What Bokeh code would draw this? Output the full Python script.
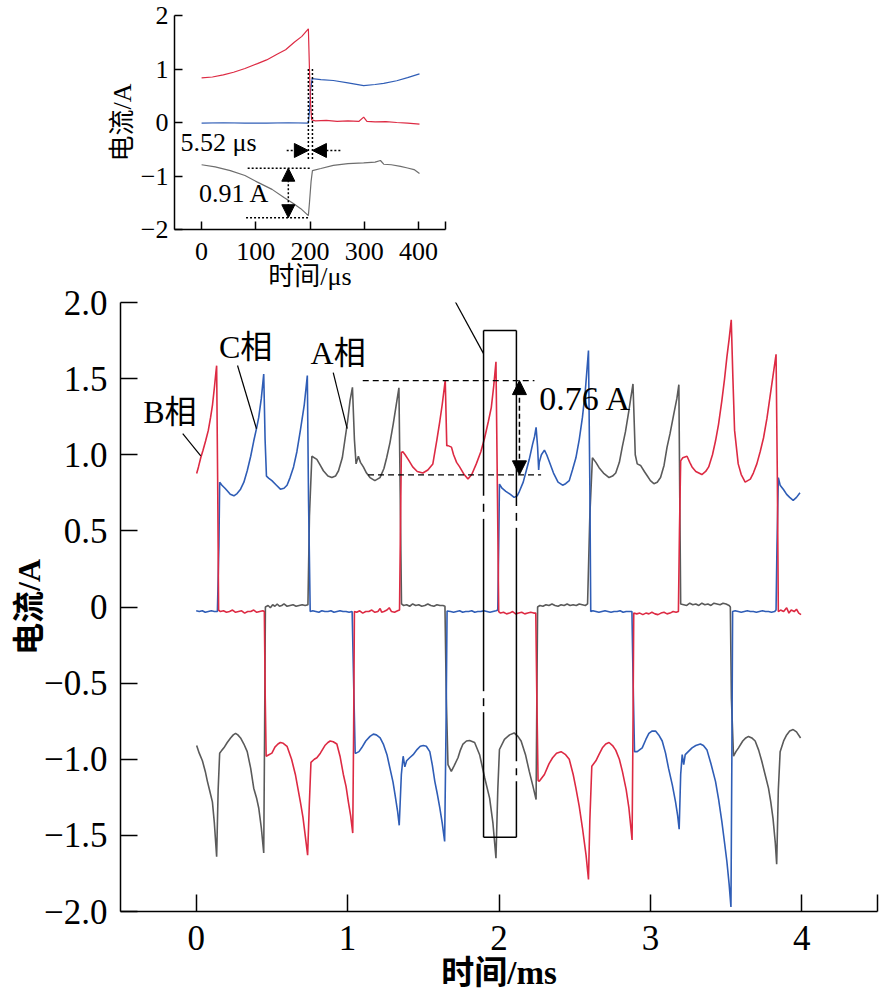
from bokeh.plotting import figure
from bokeh.models import Range1d, FixedTicker, Arrow, NormalHead, Label
from bokeh.embed import file_html
from bokeh.resources import INLINE

# ---------------- main chart data (time in ms, current in A) ----------------
b_t = [0.003, 0.015, 0.030, 0.045, 0.062, 0.080, 0.095, 0.108, 0.120, 0.130, 0.135, 0.142, 0.148,
       0.160, 0.180, 0.200, 0.220, 0.240, 0.260, 0.280, 0.300, 0.320, 0.340, 0.360, 0.380, 0.400,
       0.420, 0.440, 0.450, 0.456, 0.462, 0.480, 0.500, 0.520, 0.540, 0.556, 0.575, 0.600, 0.630,
       0.655, 0.688, 0.705, 0.720, 0.736, 0.747, 0.758, 0.780, 0.797, 0.820, 0.850, 0.870, 0.885,
       0.905, 0.929, 0.950, 0.972, 0.990, 1.005, 1.020, 1.034, 1.040, 1.045, 1.060, 1.080, 1.100,
       1.120, 1.140, 1.160, 1.180, 1.200, 1.215, 1.225, 1.240, 1.260, 1.275, 1.290, 1.310, 1.330,
       1.343, 1.350, 1.355, 1.365, 1.380, 1.400, 1.430, 1.460, 1.497, 1.530, 1.563, 1.590, 1.609,
       1.625, 1.645, 1.655, 1.663, 1.686, 1.700, 1.720, 1.740, 1.770, 1.795, 1.820, 1.850, 1.880,
       1.905, 1.930, 1.949, 1.965, 1.980, 1.990, 1.998, 2.010, 2.030, 2.050, 2.070, 2.090, 2.110,
       2.130, 2.150, 2.170, 2.190, 2.210, 2.230, 2.243, 2.250, 2.258, 2.266, 2.300, 2.330, 2.354,
       2.380, 2.410, 2.440, 2.464, 2.490, 2.508, 2.530, 2.551, 2.575, 2.591, 2.600, 2.613, 2.640,
       2.660, 2.683, 2.705, 2.727, 2.750, 2.771, 2.795, 2.815, 2.840, 2.858, 2.879, 2.885, 2.890,
       2.910, 2.930, 2.950, 2.970, 2.990, 3.010, 3.030, 3.050, 3.070, 3.090, 3.110, 3.130, 3.150,
       3.170, 3.185, 3.192, 3.200, 3.214, 3.242, 3.260, 3.275, 3.300, 3.340, 3.365, 3.385, 3.410,
       3.430, 3.450, 3.472, 3.490, 3.505, 3.520, 3.534, 3.545, 3.556, 3.580, 3.600, 3.626, 3.660,
       3.680, 3.703, 3.725, 3.747, 3.770, 3.790, 3.810, 3.830, 3.838, 3.845, 3.860, 3.880, 3.900,
       3.915, 3.930, 3.950, 3.965, 3.980, 3.995]
b_v = [0.877, 0.92, 0.98, 1.03, 1.09, 1.16, 1.245, 1.33, 1.44, 1.54, 1.585, 0.80, -0.02,
       -0.03, -0.025, -0.035, -0.03, -0.02, -0.035, -0.03, -0.025, -0.04, -0.03, -0.03, -0.02, -0.035,
       -0.03, -0.025, -0.03, -0.60, -0.98, -0.97, -0.96, -0.92, -0.90, -0.89, -0.895, -0.915, -1.00,
       -1.10, -1.28, -1.38, -1.50, -1.63, -1.30, -1.02, -1.00, -0.99, -0.96, -0.91, -0.89, -0.88,
       -0.885, -0.90, -0.98, -1.10, -1.18, -1.28, -1.37, -1.485, -0.80, -0.03, -0.035, -0.025, -0.04,
       -0.03, -0.03, -0.02, -0.035, -0.03, -0.01, -0.035, -0.03, -0.02, -0.005, -0.03, -0.035, -0.025,
       -0.02, 0.60, 1.015, 1.02, 1.00, 0.97, 0.92, 0.89, 0.88, 0.90, 0.94, 1.10, 1.22,
       1.33, 1.49, 1.06, 1.06, 1.05, 1.00, 0.95, 0.92, 0.87, 0.84, 0.87, 0.94, 1.02,
       1.11, 1.22, 1.31, 1.45, 1.61, 0.72, -0.03, -0.04, -0.035, -0.045, -0.04, -0.03, -0.045,
       -0.04, -0.035, -0.045, -0.04, -0.035, -0.04, -0.04, -0.60, -1.14, -1.145, -1.10, -1.03, -0.99,
       -0.96, -0.95, -0.97, -1.00, -1.10, -1.19, -1.31, -1.45, -1.63, -1.79, -1.40, -1.046, -1.01,
       -0.97, -0.925, -0.90, -0.89, -0.91, -0.94, -1.00, -1.08, -1.20, -1.32, -1.53, -0.80, -0.04,
       -0.045, -0.04, -0.05, -0.04, -0.045, -0.035, -0.045, -0.05, -0.04, -0.035, -0.045, -0.04, -0.03,
       -0.035, -0.03, 0.50, 0.96, 0.98, 0.99, 0.95, 0.92, 0.89, 0.87, 0.89, 0.92, 1.00,
       1.09, 1.20, 1.355, 1.50, 1.64, 1.76, 1.886, 1.50, 1.16, 0.94, 0.87, 0.82, 0.84,
       0.88, 0.94, 1.02, 1.11, 1.24, 1.38, 1.52, 1.66, 0.90, -0.03, -0.02, -0.03, -0.005,
       -0.04, -0.02, -0.03, -0.015, -0.04, -0.05]

c_t = [0.000, 0.020, 0.040, 0.060, 0.080, 0.100, 0.120, 0.140, 0.150, 0.155, 0.170, 0.190, 0.205,
       0.225, 0.249, 0.270, 0.293, 0.315, 0.337, 0.360, 0.380, 0.400, 0.413, 0.430, 0.446, 0.455,
       0.464, 0.480, 0.500, 0.530, 0.556, 0.580, 0.600, 0.620, 0.643, 0.665, 0.688, 0.714, 0.734,
       0.742, 0.753, 0.770, 0.790, 0.810, 0.830, 0.850, 0.870, 0.890, 0.910, 0.930, 0.950, 0.970,
       0.990, 1.010, 1.030, 1.040, 1.050, 1.056, 1.075, 1.093, 1.120, 1.148, 1.170, 1.190, 1.215,
       1.236, 1.260, 1.280, 1.300, 1.313, 1.330, 1.341, 1.355, 1.367, 1.378, 1.390, 1.410, 1.433,
       1.460, 1.480, 1.500, 1.520, 1.543, 1.560, 1.576, 1.593, 1.609, 1.625, 1.641, 1.650, 1.657,
       1.680, 1.700, 1.720, 1.740, 1.760, 1.780, 1.800, 1.820, 1.840, 1.860, 1.880, 1.900, 1.920,
       1.940, 1.960, 1.980, 1.992, 1.998, 2.003, 2.020, 2.045, 2.075, 2.100, 2.120, 2.135, 2.160,
       2.180, 2.200, 2.222, 2.235, 2.245, 2.255, 2.262, 2.266, 2.280, 2.300, 2.315, 2.330, 2.360,
       2.390, 2.420, 2.440, 2.464, 2.485, 2.508, 2.530, 2.551, 2.570, 2.591, 2.600, 2.606, 2.620,
       2.640, 2.660, 2.680, 2.700, 2.720, 2.740, 2.760, 2.780, 2.800, 2.820, 2.840, 2.860, 2.878,
       2.886, 2.895, 2.913, 2.946, 2.970, 2.990, 3.010, 3.034, 3.055, 3.078, 3.100, 3.120, 3.145,
       3.166, 3.180, 3.190, 3.200, 3.210, 3.220, 3.230, 3.250, 3.275, 3.300, 3.330, 3.350, 3.374,
       3.400, 3.430, 3.450, 3.472, 3.490, 3.505, 3.520, 3.532, 3.538, 3.543, 3.560, 3.580, 3.600,
       3.620, 3.640, 3.660, 3.680, 3.700, 3.720, 3.740, 3.760, 3.780, 3.800, 3.820, 3.830, 3.836,
       3.845, 3.857, 3.880, 3.900, 3.920, 3.943, 3.965, 3.988]
c_v = [-0.025, -0.03, -0.025, -0.035, -0.03, -0.025, -0.03, -0.03, 0.40, 0.82, 0.80, 0.78, 0.763,
       0.74, 0.73, 0.745, 0.774, 0.82, 0.895, 0.99, 1.09, 1.18, 1.245, 1.37, 1.53, 1.10,
       0.86, 0.845, 0.83, 0.80, 0.774, 0.78, 0.80, 0.85, 0.92, 1.02, 1.16, 1.33, 1.52,
       0.70, -0.03, -0.025, -0.03, -0.035, -0.025, -0.03, -0.03, -0.025, -0.035, -0.03, -0.025, -0.03,
       -0.03, -0.035, -0.03, -0.50, -0.96, -0.96, -0.95, -0.925, -0.88, -0.85, -0.835, -0.84, -0.86,
       -0.90, -0.97, -1.06, -1.15, -1.23, -1.34, -1.434, -1.10, -0.98, -1.05, -1.01, -0.99, -0.97,
       -0.935, -0.915, -0.91, -0.915, -0.95, -1.04, -1.145, -1.23, -1.32, -1.42, -1.54, -0.80, -0.026,
       -0.03, -0.035, -0.03, -0.025, -0.035, -0.03, -0.03, -0.025, -0.035, -0.03, -0.03, -0.025, -0.03,
       -0.035, -0.03, -0.025, -0.02, 0.40, 0.807, 0.78, 0.76, 0.74, 0.72, 0.73, 0.76, 0.82,
       0.895, 0.97, 1.07, 1.12, 1.18, 1.05, 0.90, 0.95, 1.00, 1.03, 1.00, 0.96, 0.88,
       0.82, 0.80, 0.81, 0.83, 0.90, 0.98, 1.10, 1.245, 1.42, 1.684, 0.80, -0.03, -0.025,
       -0.03, -0.035, -0.03, -0.025, -0.03, -0.035, -0.03, -0.03, -0.025, -0.035, -0.03, -0.03, -0.03,
       -0.50, -0.95, -0.95, -0.925, -0.87, -0.83, -0.815, -0.815, -0.84, -0.88, -0.96, -1.06, -1.17,
       -1.28, -1.37, -1.46, -1.10, -0.97, -1.035, -0.97, -0.95, -0.925, -0.91, -0.90, -0.91, -0.94,
       -1.03, -1.145, -1.26, -1.41, -1.55, -1.67, -1.82, -1.97, -1.00, -0.03, -0.025, -0.03, -0.035,
       -0.03, -0.025, -0.03, -0.03, -0.035, -0.03, -0.025, -0.03, -0.03, -0.035, -0.03, -0.02, 0.40,
       0.85, 0.80, 0.77, 0.74, 0.72, 0.70, 0.72, 0.75]

a_t = [0.003, 0.020, 0.041, 0.060, 0.074, 0.090, 0.107, 0.120, 0.135, 0.145, 0.155, 0.170, 0.183,
       0.205, 0.227, 0.245, 0.260, 0.275, 0.293, 0.315, 0.337, 0.360, 0.380, 0.400, 0.413, 0.430,
       0.446, 0.452, 0.457, 0.475, 0.490, 0.505, 0.520, 0.535, 0.550, 0.565, 0.580, 0.600, 0.620,
       0.640, 0.660, 0.680, 0.700, 0.720, 0.738, 0.748, 0.764, 0.797, 0.820, 0.840, 0.870, 0.896,
       0.920, 0.940, 0.965, 0.984, 1.000, 1.016, 1.032, 1.045, 1.056, 1.071, 1.085, 1.104, 1.125,
       1.148, 1.180, 1.214, 1.240, 1.258, 1.280, 1.301, 1.320, 1.339, 1.348, 1.356, 1.370, 1.390,
       1.410, 1.430, 1.450, 1.470, 1.490, 1.510, 1.530, 1.550, 1.570, 1.590, 1.610, 1.630, 1.643,
       1.652, 1.663, 1.685, 1.705, 1.729, 1.745, 1.762, 1.785, 1.806, 1.839, 1.872, 1.905, 1.938,
       1.960, 1.980, 1.992, 2.003, 2.036, 2.070, 2.100, 2.125, 2.146, 2.175, 2.200, 2.225, 2.245,
       2.250, 2.255, 2.270, 2.290, 2.310, 2.330, 2.350, 2.370, 2.390, 2.410, 2.430, 2.450, 2.470,
       2.490, 2.510, 2.530, 2.550, 2.570, 2.585, 2.600, 2.617, 2.640, 2.661, 2.690, 2.727, 2.750,
       2.771, 2.795, 2.814, 2.835, 2.858, 2.870, 2.885, 2.900, 2.913, 2.935, 2.960, 2.980, 3.000,
       3.023, 3.045, 3.067, 3.090, 3.110, 3.130, 3.155, 3.175, 3.188, 3.195, 3.200, 3.220, 3.240,
       3.260, 3.280, 3.300, 3.320, 3.340, 3.360, 3.380, 3.400, 3.420, 3.440, 3.460, 3.480, 3.500,
       3.520, 3.528, 3.535, 3.549, 3.565, 3.582, 3.610, 3.630, 3.648, 3.670, 3.692, 3.715, 3.735,
       3.760, 3.780, 3.795, 3.810, 3.825, 3.834, 3.845, 3.857, 3.880, 3.900, 3.920, 3.943, 3.965,
       3.992]
a_v = [-0.91, -0.96, -1.01, -1.08, -1.145, -1.21, -1.28, -1.42, -1.64, -1.20, -0.96, -0.94, -0.925,
       -0.89, -0.86, -0.84, -0.83, -0.84, -0.86, -0.90, -0.95, -1.06, -1.19, -1.26, -1.32, -1.45,
       -1.616, -0.80, 0.00, 0.01, -0.005, 0.015, 0.005, 0.02, 0.005, 0.01, 0.02, 0.005, 0.01,
       0.015, 0.005, 0.01, 0.015, 0.01, 0.015, 0.60, 0.99, 0.97, 0.93, 0.895, 0.86, 0.85,
       0.86, 0.895, 0.98, 1.11, 1.22, 1.355, 1.443, 1.10, 0.94, 0.99, 0.95, 0.92, 0.88,
       0.85, 0.83, 0.85, 0.91, 0.98, 1.08, 1.20, 1.32, 1.44, 0.70, 0.02, 0.01, 0.015,
       0.005, 0.02, 0.01, 0.015, 0.005, 0.01, 0.02, 0.01, 0.005, 0.015, 0.01, 0.01, 0.005,
       -0.60, -1.035, -1.08, -1.04, -0.99, -0.94, -0.90, -0.88, -0.877, -0.89, -0.97, -1.12, -1.255,
       -1.42, -1.65, -1.20, -0.936, -0.87, -0.84, -0.827, -0.85, -0.88, -0.97, -1.08, -1.18, -1.265,
       -0.60, 0.00, 0.01, 0.005, 0.015, 0.01, 0.02, 0.01, 0.005, 0.015, 0.01, 0.02, 0.01,
       0.015, 0.01, 0.02, 0.015, 0.01, 0.02, 0.60, 0.98, 0.95, 0.915, 0.88, 0.85, 0.86,
       0.88, 0.95, 1.05, 1.15, 1.29, 1.37, 1.465, 1.00, 0.94, 0.93, 0.89, 0.86, 0.83,
       0.81, 0.82, 0.85, 0.93, 1.05, 1.14, 1.27, 1.37, 1.46, 0.60, 0.02, 0.015, 0.01,
       0.025, 0.015, 0.02, 0.01, 0.025, 0.015, 0.02, 0.01, 0.025, 0.02, 0.015, 0.025, 0.02,
       0.01, 0.00, -0.60, -0.98, -0.95, -0.925, -0.88, -0.86, -0.85, -0.86, -0.88, -0.94, -1.01,
       -1.11, -1.19, -1.28, -1.39, -1.55, -1.69, -1.20, -0.95, -0.88, -0.84, -0.815, -0.805, -0.82,
       -0.86]

# ---------------- inset data (time in us, current in A) ----------------
ib_t = [0, 20, 40, 59, 80, 103, 120, 140, 155, 171, 185, 197, 199, 201, 203, 210, 230, 250, 270,
        290, 299, 305, 320, 340, 360, 380, 402]
ib_v = [0.835, 0.85, 0.89, 0.94, 1.01, 1.10, 1.17, 1.28, 1.36, 1.50, 1.61, 1.75, 1.0, 0.35, 0.05,
        0.03, 0.04, 0.02, 0.03, 0.02, 0.10, 0.02, 0.01, 0.015, 0.0, -0.01, -0.03]
ic_t = [0, 40, 80, 120, 160, 197, 199, 201, 204, 220, 243, 270, 299, 320, 336, 360, 380, 402]
ic_v = [-0.01, -0.005, -0.01, -0.01, -0.005, -0.01, 0.2, 0.6, 0.82, 0.80, 0.785, 0.74, 0.69, 0.71,
        0.73, 0.78, 0.84, 0.91]
ia_t = [0, 25, 53, 80, 103, 130, 152, 170, 183, 197, 199, 202, 204.5, 220, 243, 270, 299, 320, 330,
        336, 350, 367, 380, 392, 402]
ia_v = [-0.79, -0.83, -0.90, -0.99, -1.115, -1.25, -1.40, -1.52, -1.61, -1.74, -1.5, -1.1, -0.90,
        -0.86, -0.80, -0.77, -0.755, -0.74, -0.71, -0.78, -0.79, -0.82, -0.85, -0.88, -0.955]

main_xticks = [0, 1, 2, 3, 4, 4.5]
main_yticks = [-2, -1.5, -1, -0.5, 0, 0.5, 1, 1.5, 2]
main_ylabels = ["\u22122.0", "\u22121.5", "\u22121.0", "\u22120.5", "0", "0.5", "1.0", "1.5", "2.0"]
ins_xticks = [0, 100, 200, 300, 400, 450]
ins_yticks = [-2, -1, 0, 1, 2]
ins_ylabels = ["\u22122", "\u22121", "0", "1", "2"]

SERIF = "Liberation Serif"
MIXED = "Liberation Serif, Noto Sans CJK SC"
RED = "#DD2A43"
BLUE = "#2F5DB6"
GRAY = "#5A5A5A"


def style_axis(ax, size, tick_in):
    ax.axis_line_color = "black"
    ax.axis_line_width = 1.5
    ax.major_tick_line_color = "black"
    ax.major_tick_line_width = 1.5
    ax.major_tick_in = tick_in
    ax.major_tick_out = 0
    ax.minor_tick_in = 0
    ax.minor_tick_out = 0
    ax.major_label_text_font = SERIF
    ax.major_label_text_font_size = size
    ax.major_label_text_color = "black"
    ax.axis_label_text_font = MIXED
    ax.axis_label_text_color = "black"


# ---------------- main figure ----------------
p = figure(width=879, height=1005, x_range=Range1d(-0.5, 4.5), y_range=Range1d(-2, 2),
           output_backend="svg", toolbar_location=None,
           min_border_left=120, min_border_right=2, min_border_top=302, min_border_bottom=94,
           outline_line_color=None, background_fill_color="white", border_fill_color="white")
p.grid.visible = False

style_axis(p.xaxis[0], "35px", 17)
style_axis(p.yaxis[0], "35px", 17)
p.xaxis.ticker = FixedTicker(ticks=main_xticks)
p.xaxis.major_label_overrides = {4.5: ""}
p.yaxis.ticker = FixedTicker(ticks=main_yticks)
p.yaxis.major_label_overrides = {t: s for t, s in zip(main_yticks, main_ylabels)}
p.xaxis.axis_label = "时间/ms"
p.yaxis.axis_label = "电流/A"
p.xaxis.axis_label_text_font_size = "33px"
p.yaxis.axis_label_text_font_size = "32px"
p.xaxis.axis_label_text_font_style = "bold"
p.yaxis.axis_label_text_font_style = "bold"
p.xaxis.major_label_standoff = 14
p.xaxis.axis_label_standoff = 2
p.yaxis.major_label_standoff = 13
p.yaxis.axis_label_standoff = -6

p.line(a_t, a_v, line_color=GRAY, line_width=1.6)
p.line(c_t, c_v, line_color=BLUE, line_width=1.6)
p.line(b_t, b_v, line_color=RED, line_width=1.6)

# zoom rectangle (sides with small dash-dot breaks)
rx0, rx1, ry0, ry1 = 1.898, 2.115, -1.513, 1.816
p.segment(x0=[rx0, rx0], y0=[ry1, ry0], x1=[rx1, rx1], y1=[ry1, ry0], line_color="black", line_width=1.5)
left_pieces = [(ry1, 0.730), (0.678, 0.625), (0.579, -0.553), (-0.599, -0.651), (-0.691, ry0)]
right_pieces = [(ry1, 0.664), (0.618, 0.566), (0.520, -1.013), (-1.059, -1.105), (-1.145, ry0)]
p.segment(x0=[rx0] * 5 + [rx1] * 5,
          y0=[a for a, b in left_pieces] + [a for a, b in right_pieces],
          x1=[rx0] * 5 + [rx1] * 5,
          y1=[b for a, b in left_pieces] + [b for a, b in right_pieces],
          line_color="black", line_width=1.5)

# connector from inset to rectangle
p.add_layout(Arrow(end=None, x_start=1.556, y_start=2.289, x_end=rx0, y_end=1.664,
                   line_color="black", line_width=1.2))

# 0.76 A annotation
p.segment(x0=[1.10, 1.135], y0=[1.487, 0.868], x1=[2.234, 2.278], y1=[1.487, 0.868],
          line_color="black", line_width=1.2, line_dash="6 4")
p.add_layout(Arrow(start=NormalHead(size=14, fill_color="black", line_color="black"),
                   end=NormalHead(size=14, fill_color="black", line_color="black"),
                   x_start=2.135, y_start=0.868, x_end=2.135, y_end=1.487,
                   line_color="black", line_width=1.5, line_dash="5 3"))
p.add_layout(Label(x=2.266, y=1.368, text="0.76 A", text_font=SERIF, text_font_size="34px",
                   text_baseline="middle", text_align="left", text_color="black"))

# phase labels and leaders
for tx, ty, s in [(-0.174, 1.283, "B相"), (0.326, 1.71, "C相"), (0.9375, 1.671, "A相")]:
    p.add_layout(Label(x=tx, y=ty, text=s, text_font=MIXED, text_font_size="32px",
                       text_baseline="middle", text_align="center", text_color="black"))
p.segment(x0=[-0.089, 0.273, 0.905], y0=[1.138, 1.586, 1.539],
          x1=[0.030, 0.398, 0.997], y1=[0.993, 1.171, 1.171], line_color="black", line_width=1.2)

# ---------------- inset figure ----------------
q = figure(width=468, height=306, x_range=Range1d(-50, 450), y_range=Range1d(-2, 2),
           output_backend="svg", toolbar_location=None,
           min_border_left=174, min_border_right=23, min_border_top=15, min_border_bottom=77,
           outline_line_color=None, background_fill_alpha=0, border_fill_alpha=0)
q.grid.visible = False
style_axis(q.xaxis[0], "26px", 8)
style_axis(q.yaxis[0], "26px", 8)
q.xaxis.ticker = FixedTicker(ticks=ins_xticks)
q.xaxis.major_label_overrides = {450: ""}
q.yaxis.ticker = FixedTicker(ticks=ins_yticks)
q.yaxis.major_label_overrides = {t: s for t, s in zip(ins_yticks, ins_ylabels)}
q.xaxis.axis_label = "时间/μs"
q.yaxis.axis_label = "电流/A"
q.xaxis.axis_label_text_font_size = "26px"
q.yaxis.axis_label_text_font_size = "26px"
q.xaxis.axis_label_text_font_style = "normal"
q.yaxis.axis_label_text_font_style = "normal"
q.xaxis.major_label_standoff = 13
q.xaxis.axis_label_standoff = -1
q.yaxis.major_label_standoff = 6
q.yaxis.axis_label_standoff = 1

q.line(ia_t, ia_v, line_color="#6E6E6E", line_width=1.2)
q.line(ic_t, ic_v, line_color=BLUE, line_width=1.2)
q.line(ib_t, ib_v, line_color=RED, line_width=1.2)

q.segment(x0=[197, 204.5, 85, 82], y0=[1.0, 1.0, -0.854, -1.78],
          x1=[197, 204.5, 203, 200], y1=[-0.72, -0.72, -0.854, -1.78],
          line_color="black", line_width=1.5, line_dash="2 2")
q.add_layout(Arrow(end=NormalHead(size=14, fill_color="black", line_color="black"),
                   x_start=157, y_start=-0.523, x_end=197, y_end=-0.523,
                   line_color="black", line_width=1.5, line_dash="2 2"))
q.add_layout(Arrow(end=NormalHead(size=14, fill_color="black", line_color="black"),
                   x_start=256, y_start=-0.523, x_end=204.5, y_end=-0.523,
                   line_color="black", line_width=1.5, line_dash="2 2"))
q.add_layout(Arrow(start=NormalHead(size=13, fill_color="black", line_color="black"),
                   end=NormalHead(size=13, fill_color="black", line_color="black"),
                   x_start=160, y_start=-0.854, x_end=160, y_end=-1.78,
                   line_color="black", line_width=1.5, line_dash="2 2"))
q.add_layout(Label(x=-38.7, y=-0.368, text="5.52 μs", text_font=SERIF, text_font_size="26px",
                   text_baseline="middle", text_align="left", text_color="black"))
q.add_layout(Label(x=-5, y=-1.327, text="0.91 A", text_font=SERIF, text_font_size="26px",
                   text_baseline="middle", text_align="left", text_color="black"))

# the inset sits over the transparent upper area of the main figure
q.styles = {"position": "absolute", "left": "0px", "top": "0px"}

open("out.html", "w").write(file_html([p, q], INLINE))
